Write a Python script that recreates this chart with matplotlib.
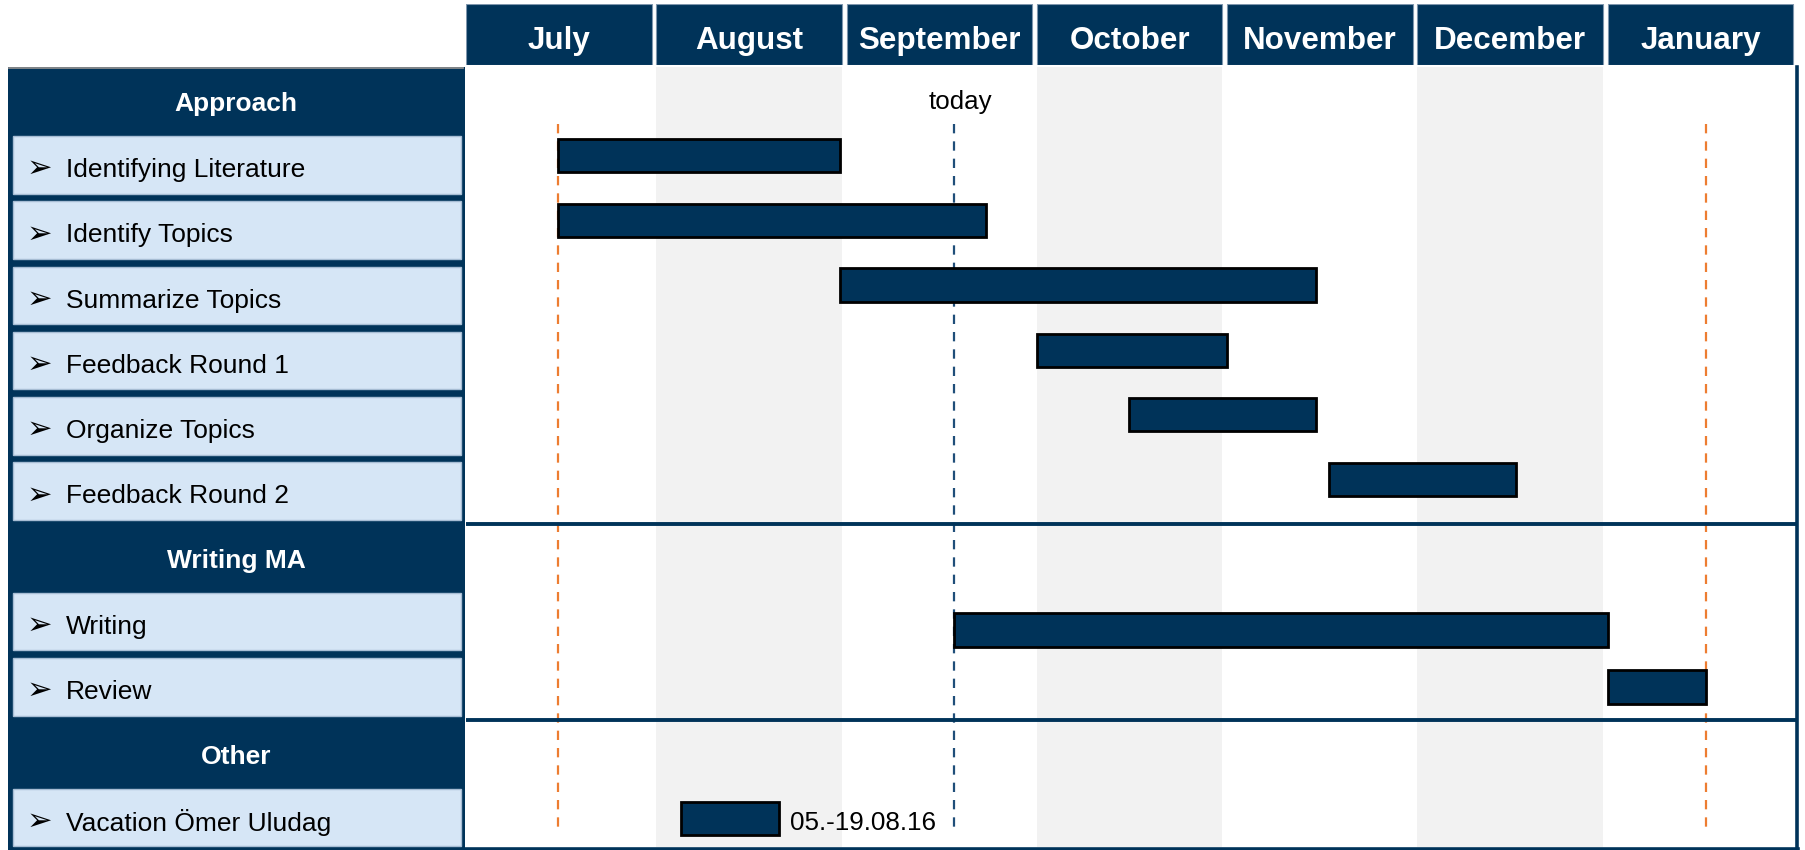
import matplotlib
matplotlib.use('Agg')
import matplotlib.pyplot as plt
from matplotlib.patches import Rectangle
import datetime as dt
import calendar

# ---------------- data ----------------
months = ['July', 'August', 'September', 'October', 'November', 'December', 'January']
first_month = (2016, 7)
sections = ['Approach', 'Writing MA', 'Other']
tasks = ['Identifying Literature', 'Identify Topics', 'Summarize Topics',
         'Feedback Round 1', 'Organize Topics', 'Feedback Round 2',
         'Writing', 'Review', 'Vacation Ömer Uludag']
task_section = [0, 0, 0, 0, 0, 0, 1, 1, 2]
task_start = ['2016-07-16', '2016-07-16', '2016-08-31', '2016-10-01', '2016-10-16',
              '2016-11-17', '2016-09-18', '2017-01-01', '2016-08-05']
task_end = ['2016-08-30', '2016-09-22', '2016-11-14', '2016-10-31', '2016-11-14',
            '2016-12-16', '2016-12-31', '2017-01-16', '2016-08-20']
today_date = '2016-09-18'
today_label = 'today'
milestone_dates = ['2016-07-16', '2017-01-17']
vacation_label = '05.-19.08.16'
shaded_months = [1, 3, 5]

# ---------------- layout / style ----------------
NAVY = '#003359'
LIGHT = '#d6e6f6'
SHADE = '#f2f2f2'
ORANGE = '#ed7d31'
TODAY_C = '#1f4e79'
BAR_NUDGE = [-0.14, -0.15, -0.16, -0.16, -0.17, -0.18, 0.13, 0.0, 0.02]
BAR_H = 0.51
FONT = 'Liberation Sans'

W, H = 1805, 850
TOP = 67  # px where rows begin


def month_pos(s, end=False):
    d = dt.date.fromisoformat(s)
    idx = (d.year - first_month[0]) * 12 + d.month - first_month[1]
    nd = calendar.monthrange(d.year, d.month)[1]
    return idx + (d.day - (0 if end else 1)) / nd


# rows
row_kind = []
row_text = []
task_row = []
for si, sec in enumerate(sections):
    row_kind.append('header')
    row_text.append(sec)
    for ti, t in enumerate(tasks):
        if task_section[ti] == si:
            task_row.append(len(row_kind))
            row_kind.append('task')
            row_text.append(t)
NROWS = len(row_kind)

fig = plt.figure(figsize=(W / 100, H / 100), dpi=100)

gx0, gx1 = 466, 1798
ax = fig.add_axes([gx0 / W, 0, (gx1 - gx0) / W, (H - TOP) / H])
axh = fig.add_axes([gx0 / W, (H - 65) / H, (gx1 - gx0) / W, 61 / H], sharex=ax)
axl = fig.add_axes([8 / W, 0, (465 - 8) / W, (H - TOP) / H])

for a in (ax, axh, axl):
    a.set_axis_off()

nm = len(months)
ax.set_xlim(0, nm)
ax.set_ylim(NROWS, 0)
axh.set_ylim(0, 1)
axl.set_xlim(0, 457)
axl.set_ylim(NROWS, 0)

# month header boxes
for i, m in enumerate(months):
    axh.add_patch(Rectangle((i, 0), 0.975, 1, facecolor=NAVY, edgecolor='#7f96ad', lw=0.8))
    axh.text(i + 0.4875, 0.40, m, color='white', fontsize=22.6, fontweight='bold',
             family=FONT, ha='center', va='center')

# shading
for i in shaded_months:
    ax.add_patch(Rectangle((i, 0), 0.975, NROWS - 0.05, facecolor=SHADE, edgecolor='none', zorder=0))

# separators
for r, k in enumerate(row_kind):
    if k == 'header' and r > 0:
        ax.plot([0, nm], [r, r], color=NAVY, lw=2.8, solid_capstyle='butt', zorder=3, clip_on=False)
ax.plot([nm - 0.005, nm - 0.005], [0, NROWS], color=NAVY, lw=2.6, zorder=3, clip_on=False)
ax.plot([0, nm], [NROWS - 0.01, NROWS - 0.01], color=NAVY, lw=2.6, zorder=3, clip_on=False)

# milestone and today lines
y0, y1 = 0.87, 11.68
for md in milestone_dates:
    x = month_pos(md)
    ax.plot([x, x], [y0, y1], color=ORANGE, lw=1.6, linestyle=(0, (4.2, 3.6)), zorder=2)
tx = month_pos(today_date)
ax.plot([tx, tx], [y0, y1], color=TODAY_C, lw=1.6, linestyle=(0, (4.2, 3.6)), zorder=2)
ax.annotate(today_label, (tx, 0.53), xytext=(4, 0), textcoords='offset points',
            ha='center', va='center', fontsize=18.6, family=FONT, color='black')

# bars
for ti in range(len(tasks)):
    s = month_pos(task_start[ti])
    e = month_pos(task_end[ti], end=True)
    yc = task_row[ti] + 0.5 + BAR_NUDGE[ti]
    ax.barh(yc, e - s, left=s, height=BAR_H, color=NAVY, edgecolor='black', lw=2, zorder=4)
    if task_section[ti] == 2:
        ax.annotate(vacation_label, (e, yc), xytext=(8, -3), textcoords='offset points',
                    ha='left', va='center', fontsize=18.7, family=FONT, color='black')

# left panel
axl.add_patch(Rectangle((0, 0), 457, NROWS, facecolor=NAVY, edgecolor='none'))
axl.plot([1, 455], [0.015, 0.015], color='#8c8c8c', lw=1.3, clip_on=False)
for r, (k, t) in enumerate(zip(row_kind, row_text)):
    if k == 'header':
        axl.text(228, r + 0.57, t, color='white', fontsize=19, fontweight='bold',
                 family=FONT, ha='center', va='center')
    else:
        axl.add_patch(Rectangle((4.5, r + 0.06), 448.5, 0.88, facecolor=LIGHT,
                                edgecolor='#a7bdd4', lw=1))
        axl.text(31, r + 0.56, '➢', color='black', fontsize=22, family='DejaVu Sans',
                 ha='center', va='center')
        axl.text(58, r + 0.58, t, color='black', fontsize=19, family=FONT,
                 ha='left', va='center')

fig.savefig('out.png', dpi=100)
